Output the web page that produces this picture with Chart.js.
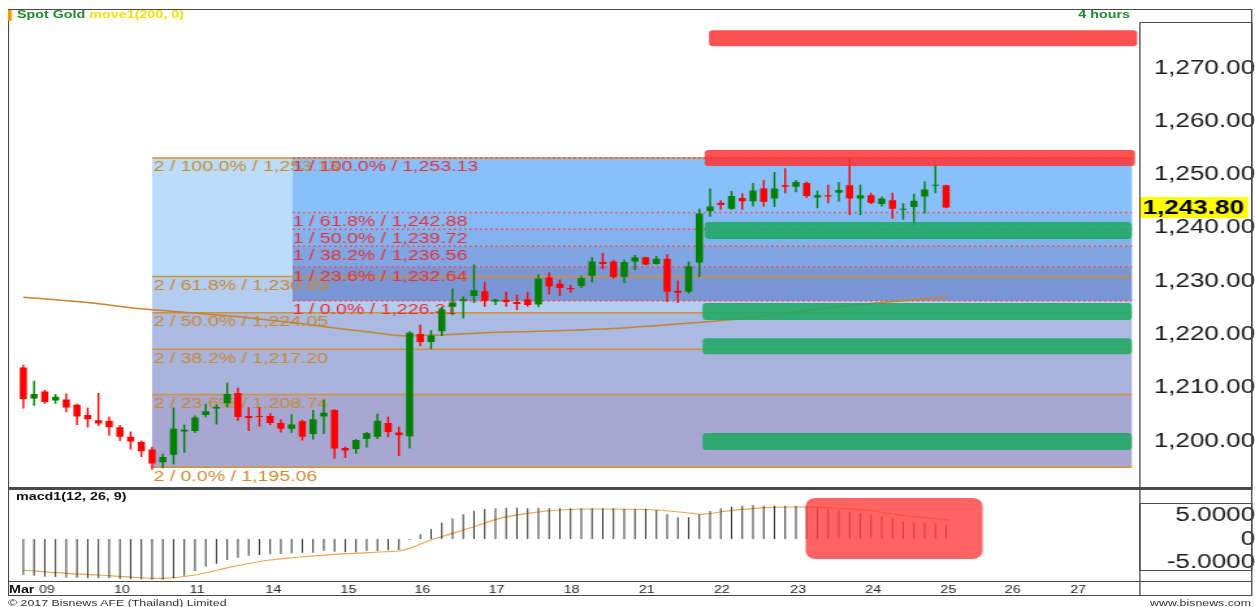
<!DOCTYPE html>
<html>
<head>
<meta charset="utf-8">
<title>Spot Gold 4 hours</title>
<script src="https://cdn.jsdelivr.net/npm/chart.js@4.4.1/dist/chart.umd.min.js"></script>
<style>
  html, body { margin: 0; padding: 0; background: #fff; overflow: hidden; }
  #stage { position: absolute; left: 0; top: 0; width: 965px; height: 607px; transform-origin: 0 0;
           font-family: "Liberation Sans", Arial, sans-serif; }
  #stage canvas { position: absolute; left: 0; }
  .txt { position: absolute; white-space: nowrap; line-height: 13px; }
  .frame { position: absolute; box-sizing: border-box; }
</style>
</head>
<body>
<div id="stage">
  <canvas id="main" width="965" height="488" style="top:0"></canvas>
  <canvas id="macd" width="965" height="107" style="top:488px"></canvas>
</div>
<script>
// 4h candles, Mar 09 .. Mar 25
const candleOpen  = [1213.8,1208.0,1209.3,1207.6,1207.8,1206.8,1204.9,1203.9,1203.8,1202.6,1200.8,1199.8,1198.4,1196.0,1197.4,1201.8,1201.9,1204.9,1206.1,1207.1,
                     1209.0,1204.7,1204.7,1204.7,1203.4,1202.3,1203.7,1201.3,1204.6,1205.8,1198.7,1198.5,1200.4,1200.8,1203.4,1201.6,1200.9,1220.1,1218.6,1220.6,
                     1225.2,1226.3,1227.2,1228.1,1226.2,1226.5,1226.1,1226.6,1225.6,1230.7,1229.5,1228.7,1229.1,1231.0,1233.6,1233.7,1230.8,1233.7,1234.5,1233.2,
                     1234.2,1228.2,1228.0,1233.5,1243.1,1244.7,1243.6,1245.6,1245.0,1247.4,1245.5,1248.0,1247.7,1248.4,1245.7,1246.1,1246.6,1248.0,1245.5,1246.1,
                     1244.5,1245.2,1243.4,1243.9,1245.9,1247.9,1248.0];
const candleHigh  = [1214.3,1211.3,1209.6,1208.8,1208.9,1207.0,1206.3,1209.0,1204.6,1203.0,1201.8,1200.1,1198.9,1197.6,1206.3,1203.1,1204.8,1207.0,1206.8,1211.0,
                     1210.0,1206.4,1206.4,1205.2,1204.1,1205.0,1204.0,1205.8,1207.7,1206.0,1198.9,1200.4,1201.7,1205.1,1204.6,1202.7,1220.6,1221.8,1220.8,1225.2,
                     1228.6,1227.1,1233.1,1229.8,1226.7,1228.0,1227.5,1228.0,1231.3,1231.6,1230.3,1229.3,1231.0,1234.5,1235.3,1234.0,1234.0,1234.9,1234.6,1234.7,
                     1235.1,1230.1,1233.7,1243.6,1247.4,1245.2,1246.9,1246.5,1248.4,1249.0,1250.5,1251.2,1249.0,1248.7,1247.0,1248.1,1248.6,1253.0,1248.1,1246.6,
                     1245.9,1246.6,1244.6,1246.4,1248.7,1251.7,1248.1];
const candleLow   = [1206.1,1206.6,1207.0,1207.0,1205.4,1203.0,1202.6,1202.8,1201.0,1200.0,1198.4,1197.0,1194.6,1194.9,1195.6,1197.8,1201.5,1204.4,1203.1,1206.3,
                     1203.8,1201.9,1202.7,1203.0,1201.6,1201.5,1200.1,1200.3,1201.3,1196.7,1196.8,1197.6,1198.8,1200.4,1200.7,1197.2,1198.6,1217.8,1217.2,1219.7,
                     1223.6,1223.0,1225.9,1225.2,1225.5,1225.2,1224.6,1225.2,1225.1,1227.5,1227.2,1227.8,1228.7,1229.8,1232.3,1230.5,1229.6,1232.1,1233.0,1233.1,
                     1226.1,1225.9,1227.7,1230.8,1242.1,1243.4,1243.4,1243.4,1244.0,1244.0,1243.9,1246.5,1246.7,1245.6,1243.7,1244.6,1244.9,1242.4,1242.4,1244.5,
                     1244.0,1241.7,1241.5,1240.4,1242.7,1246.5,1243.7];
const candleClose = [1207.9,1208.8,1207.3,1208.3,1206.3,1204.6,1204.1,1203.3,1202.6,1200.8,1199.9,1198.1,1195.8,1197.0,1202.3,1202.1,1204.4,1205.6,1206.4,1208.8,
                     1204.5,1204.3,1204.5,1203.4,1202.3,1203.1,1200.8,1204.1,1205.3,1198.6,1198.2,1200.2,1201.5,1203.8,1201.7,1201.1,1220.3,1218.6,1219.8,1224.7,
                     1226.0,1226.6,1228.3,1226.3,1226.5,1226.1,1225.7,1225.5,1230.5,1229.0,1228.7,1228.5,1230.6,1233.7,1233.2,1230.8,1233.6,1234.5,1233.1,1234.2,
                     1228.0,1227.8,1232.8,1242.7,1244.0,1244.3,1246.0,1245.0,1247.0,1244.9,1247.4,1247.7,1248.6,1246.0,1246.1,1245.9,1247.1,1245.5,1246.1,1244.7,
                     1245.5,1243.6,1243.6,1245.1,1247.2,1248.1,1243.8];
const lastPrice = 1243.80;

// move1(200, 0) read at these candle positions
const maIdx = [0, 6, 11, 16, 21, 26, 29, 32, 35, 39, 43, 48, 54, 60, 65, 70, 75, 80, 86];
const maVal = [1227.0,1226.0,1224.8,1224.0,1223.1,1222.0,1221.2,1220.5,1219.8,1219.9,1220.3,1220.6,1221.0,1221.8,1222.6,1223.7,1225.0,1226.0,1227.0];

// macd1(12, 26, 9)
const macdHist = [-7.66,-7.80,-8.01,-8.09,-8.23,-8.23,-8.37,-8.37,-8.37,-8.51,-8.51,-8.58,-8.65,-8.65,-8.37,-7.80,-6.81,-5.89,-5.25,-4.47,
                  -3.97,-3.55,-3.40,-3.26,-3.19,-3.05,-2.91,-2.91,-2.55,-2.70,-2.84,-2.84,-2.55,-2.55,-2.41,-2.34,-0.20,0.99,2.13,3.48,
                  4.40,5.25,6.03,6.38,6.52,6.67,6.67,6.52,6.67,6.52,6.52,6.52,6.52,6.52,6.52,6.52,6.38,6.38,6.38,6.17,
                  5.25,4.61,4.61,5.25,5.96,6.52,6.88,7.09,7.23,7.09,7.09,7.09,7.09,6.88,6.67,6.38,6.17,5.67,5.46,5.11,
                  4.75,4.40,3.69,3.55,3.55,3.33,2.98];
const signalIdx = [0, 4, 7, 10, 13, 16, 19.5, 23, 29, 35, 36, 38, 40, 42, 44.4, 47, 50, 53.5, 59, 62.4, 63.3, 65.6, 69.2, 73.2, 76, 78.6, 81.3, 84, 86.3];
const signalVal = [-6.6,-7.3,-7.66,-8.1,-8.37,-7.66,-5.89,-4.47,-3.26,-2.55,-1.99,-0.2,1.2,2.62,4.4,5.46,6.17,6.38,6.17,5.46,5.25,5.96,6.67,6.8,6.52,6.17,5.25,4.54,4.04];

// axis ticks
const priceTicks = [1200, 1210, 1220, 1230, 1240, 1250, 1260, 1270];
const macdTicks = [-5, 0, 5];
const dayTickPos = [2.2, 9.2, 16.2, 23.3, 30.3, 37.2, 44.1, 51.1, 58.1, 65.1, 72.2, 79.2, 86.2, 92.2, 98.3];
const dayTickLabels = ['09', '10', '11', '14', '15', '16', '17', '18', '21', '22', '23', '24', '25', '26', '27'];

// fibonacci retracements
const fibPercents = [100, 61.8, 50, 38.2, 23.6, 0];
const fib2Levels = [1253.13, 1230.89, 1224.05, 1217.20, 1208.74, 1195.06];
const fib1Levels = [1253.13, 1242.88, 1239.72, 1236.56, 1232.64, 1226.31];
const fib2StartIdx = 12, fib1StartIdx = 25.1, fibEndIdx = 103.3;

// zones: [fromIdx, toIdx, top price, bottom price]
const redZones = [[63.9, 103.8, 1277.1, 1274.1], [63.5, 103.6, 1254.6, 1251.6]];
const greenZones = [[63.5, 103.3, 1241.1, 1237.9], [63.3, 103.3, 1225.9, 1222.7], [63.3, 103.3, 1219.3, 1216.3], [63.3, 103.3, 1201.5, 1198.3]];
const macdBox = [72.9, 89.4, 8.72, -4.26];

// ---------------------------------------------------------------
const S = 1255 / 965;               // reference is stretched sideways
const FONT = '"Liberation Sans", Arial, sans-serif';
const X_MIN = -1.426, X_MAX = 103.88;
Chart.defaults.font.family = FONT;

const stage = document.getElementById('stage');
stage.style.transform = `scaleX(${S})`;

function fmtPrice(v) {
  return v.toLocaleString('en-US', { minimumFractionDigits: 2, maximumFractionDigits: 2 });
}

function frame(x0, y0, x1, y1, css) {
  const d = document.createElement('div');
  d.className = 'frame';
  d.style.cssText = `left:${x0 / S}px;top:${y0}px;width:${(x1 - x0) / S}px;height:${y1 - y0}px;${css}`;
  stage.appendChild(d);
}

function text(html, x, yc, css, alignRight) {
  const d = document.createElement('div');
  d.className = 'txt';
  d.innerHTML = html;
  d.style.cssText = (alignRight ? `right:${965 - x / S}px;` : `left:${x / S}px;`) + `top:${yc - 6.5}px;${css}`;
  stage.appendChild(d);
}

// axes keep their size; no extra room for half labels
function fixedWidth(s) {
  s.width = 965 - 1138 / S;
  s.paddingTop = 0; s.paddingBottom = 0;
}

const idx = candleOpen.map((_, i) => i);
const candleColors = idx.map(i => candleClose[i] >= candleOpen[i] ? '#008000' : '#ff0000');

const fib2Fill = ['#bcdcfc', '#b4ccf0', '#abbae2', '#a9b3dc', '#a7a7d2'];
const fib1Fill = ['#88c0fc', '#86baf6', '#84b2ee', '#80a6e4', '#7b96d4'];

const fibPlugin = {
  id: 'fibs',
  beforeDatasetsDraw(chart) {
    const { ctx, scales: { x, y } } = chart;
    const x2 = x.getPixelForValue(fib2StartIdx);
    const x1 = x.getPixelForValue(fib1StartIdx);
    const xe = x.getPixelForValue(fibEndIdx);
    ctx.save();
    for (let k = 0; k < fibPercents.length - 1; k++) {
      const t = y.getPixelForValue(fib2Levels[k]), b = y.getPixelForValue(fib2Levels[k + 1]);
      ctx.fillStyle = fib2Fill[k];
      ctx.fillRect(x2, t, xe - x2, b - t);
    }
    for (let k = 0; k < fibPercents.length - 1; k++) {
      const t = y.getPixelForValue(fib1Levels[k]), b = y.getPixelForValue(fib1Levels[k + 1]);
      ctx.fillStyle = fib1Fill[k];
      ctx.fillRect(x1, t, xe - x1, b - t);
    }
    ctx.lineWidth = 1.5;
    ctx.strokeStyle = '#d3922f';
    fib2Levels.forEach(v => {
      const py = y.getPixelForValue(v);
      ctx.beginPath(); ctx.moveTo(x2, py); ctx.lineTo(xe, py); ctx.stroke();
    });
    ctx.strokeStyle = '#f0464c';
    ctx.setLineDash([1.6, 2.4]);
    fib1Levels.forEach(v => {
      const py = y.getPixelForValue(v);
      ctx.beginPath(); ctx.moveTo(x1, py); ctx.lineTo(xe, py); ctx.stroke();
    });
    ctx.setLineDash([]);
    ctx.font = `15px ${FONT}`;
    ctx.textAlign = 'left';
    ctx.textBaseline = 'alphabetic';
    ctx.fillStyle = '#c98a2e';
    fib2Levels.forEach((v, k) => {
      ctx.fillText(`2 / ${fibPercents[k].toFixed(1)}% / ${fmtPrice(v)}`, x2 + 1, y.getPixelForValue(v) + 13.5);
    });
    ctx.fillStyle = '#ea3038';
    fib1Levels.forEach((v, k) => {
      ctx.fillText(`1 / ${fibPercents[k].toFixed(1)}% / ${fmtPrice(v)}`, x1, y.getPixelForValue(v) + 13.5);
    });
    ctx.restore();
  },
  afterDatasetsDraw(chart) {
    const { ctx, scales: { x, y } } = chart;
    ctx.save();
    const zone = (z, color) => {
      const xs = x.getPixelForValue(z[0]), xe = x.getPixelForValue(z[1]);
      const t = y.getPixelForValue(z[2]), b = y.getPixelForValue(z[3]);
      ctx.fillStyle = color;
      ctx.beginPath(); ctx.roundRect(xs, t, xe - xs, b - t, 3); ctx.fill();
    };
    redZones.forEach(z => zone(z, 'rgba(255, 51, 51, 0.85)'));
    greenZones.forEach(z => zone(z, 'rgba(32, 168, 100, 0.88)'));
    ctx.restore();
  },
  afterDraw(chart) {
    const { ctx, scales: { y } } = chart;
    const py = y.getPixelForValue(lastPrice);
    ctx.save();
    ctx.fillStyle = '#ffff00';
    ctx.fillRect(1140 / S, py - 10.5, 108 / S, 21);
    ctx.fillStyle = '#000';
    ctx.font = `bold 20px ${FONT}`;
    ctx.textAlign = 'right';
    ctx.textBaseline = 'middle';
    ctx.fillText(fmtPrice(lastPrice), 1244 / S, py + 1);
    ctx.restore();
  }
};

new Chart(document.getElementById('main'), {
  type: 'bar',
  data: {
    datasets: [
      { type: 'line', data: maIdx.map((v, k) => ({ x: v, y: maVal[k] })), borderColor: '#c8842c',
        borderWidth: 1.5, pointRadius: 0, tension: 0.3, order: 3 },
      { data: idx.map(i => ({ x: i, y: [candleLow[i], candleHigh[i]] })), backgroundColor: candleColors,
        barThickness: 1.4, inflateAmount: 0, grouped: false, order: 2 },
      { data: idx.map(i => ({ x: i, y: [candleOpen[i], candleClose[i]] })), backgroundColor: candleColors,
        barThickness: 5.5, inflateAmount: 0, grouped: false, order: 1 }
    ]
  },
  options: {
    responsive: false, animation: false, devicePixelRatio: 1,
    layout: { padding: { left: 8 / S, top: 22, bottom: 1, right: 0 } },
    plugins: { legend: { display: false }, tooltip: { enabled: false } },
    scales: {
      x: { type: 'linear', min: X_MIN, max: X_MAX, offset: false, display: false },
      y: {
        position: 'right', min: 1191.37, max: 1278.63,
        grid: { display: false, drawTicks: false }, border: { display: false },
        afterBuildTicks: s => { s.ticks = priceTicks.map(v => ({ value: v })); },
        afterFit: fixedWidth,
        ticks: { crossAlign: 'far', padding: 5, color: '#1a1a1a', font: { size: 20 }, callback: v => fmtPrice(v) }
      }
    }
  },
  plugins: [fibPlugin]
});

const macdPlugin = {
  id: 'macdBox',
  afterDatasetsDraw(chart) {
    const { ctx, scales: { x, y } } = chart;
    const xs = x.getPixelForValue(macdBox[0]), xe = x.getPixelForValue(macdBox[1]);
    const t = y.getPixelForValue(macdBox[2]), b = y.getPixelForValue(macdBox[3]);
    ctx.save();
    ctx.fillStyle = 'rgba(255, 60, 60, 0.8)';
    ctx.beginPath(); ctx.roundRect(xs, t, xe - xs, b - t, 8); ctx.fill();
    ctx.restore();
  }
};

new Chart(document.getElementById('macd'), {
  type: 'bar',
  data: {
    datasets: [
      { type: 'line', data: signalIdx.map((v, k) => ({ x: v, y: signalVal[k] })), borderColor: '#e9a654',
        borderWidth: 1.2, pointRadius: 0, tension: 0.3, order: 2 },
      { data: idx.map(i => ({ x: i, y: macdHist[i] })), backgroundColor: '#333',
        barThickness: 1.0, inflateAmount: 0, grouped: false, order: 1 }
    ]
  },
  options: {
    responsive: false, animation: false, devicePixelRatio: 1,
    layout: { padding: { left: 8 / S, top: 1, bottom: 0, right: 0 } },
    plugins: { legend: { display: false }, tooltip: { enabled: false } },
    scales: {
      x: {
        type: 'linear', min: X_MIN, max: X_MAX, offset: false,
        grid: { display: false, drawTicks: false }, border: { display: false },
        afterBuildTicks: s => { s.ticks = dayTickPos.map(v => ({ value: v })); },
        afterFit: s => { s.height = 14; s.paddingLeft = 0; s.paddingRight = 0; },
        ticks: { autoSkip: false, maxRotation: 0, padding: 2, color: '#222', font: { size: 11 },
                 callback: (v, k) => dayTickLabels[k] }
      },
      y: {
        position: 'right', min: -8.94, max: 10.64,
        grid: { display: false, drawTicks: false }, border: { display: false },
        afterBuildTicks: s => { s.ticks = macdTicks.map(v => ({ value: v })); },
        afterFit: fixedWidth,
        ticks: { crossAlign: 'far', padding: 15, color: '#1a1a1a', font: { size: 20 },
                 callback: v => v === 0 ? '0' : v.toFixed(4) }
      }
    }
  },
  plugins: [macdPlugin]
});

// frame and captions
const edge = '#4a4a4a';
frame(8, 9, 1253, 596, `border:1.5px solid ${edge}`);
frame(1139, 22, 1253, 488, `border:1.5px solid ${edge}`);
frame(8, 487, 1253, 489.5, `background:${edge}`);
frame(1139, 503, 1253, 571, `border:1.5px solid ${edge}`);
frame(8, 580.5, 1253, 582, `background:${edge}`);
frame(1139, 489, 1140.5, 596, `background:${edge}`);
frame(8, 10, 12, 21, 'background:#ff9a00');

text('<b style="color:#1f8a2b">Spot Gold</b> <b style="color:#f2e20c">move1(200, 0)</b>', 17, 14.5, 'font-size:11px');
text('<b style="color:#1f8a2b">4 hours</b>', 1130, 14.5, 'font-size:11px', true);
text('<b style="color:#111">macd1(12, 26, 9)</b>', 16, 496, 'font-size:11px');
text('<b style="color:#111">Mar</b>', 9, 589, 'font-size:11px');
text('© 2017 Bisnews AFE (Thailand) Limited', 8, 602.5, 'font-size:9.5px;color:#333');
text('www.bisnews.com', 1251, 602.5, 'font-size:9.5px;color:#333', true);
</script>
</body>
</html>
